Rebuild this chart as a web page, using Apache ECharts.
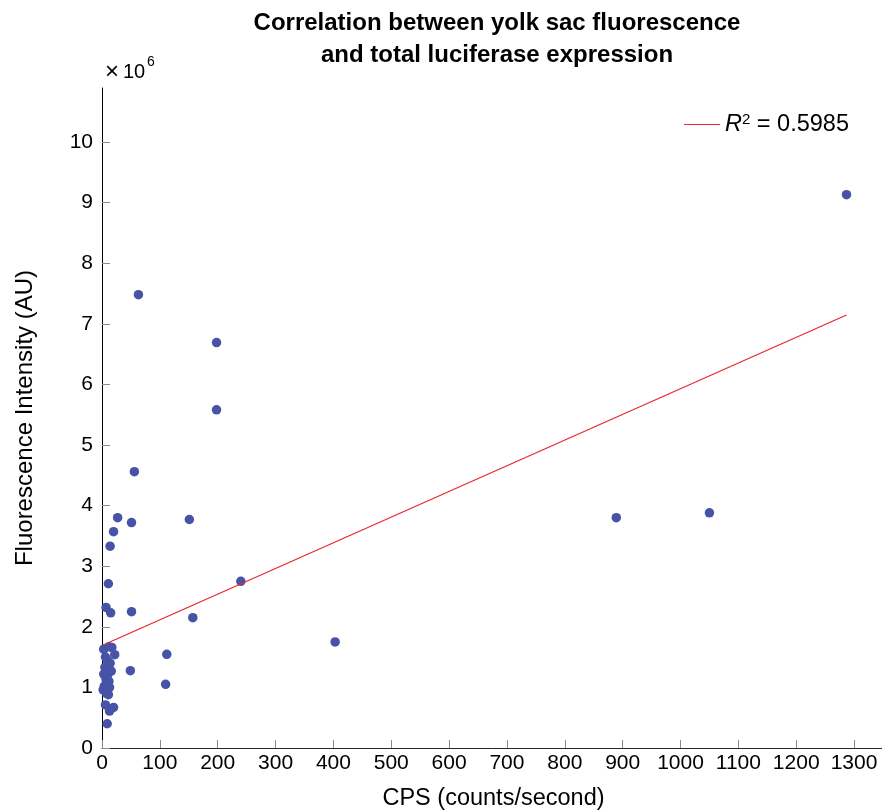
<!DOCTYPE html>
<html>
<head>
<meta charset="utf-8">
<script src="https://cdn.jsdelivr.net/npm/echarts@6/dist/echarts.min.js"></script>
<style>
  html, body { margin: 0; padding: 0; background: #fff; }
  #chart { width: 882px; height: 811px; }
</style>
</head>
<body>
<div id="chart"></div>
<script>
// Luciferase CPS (counts/second) per sample
const cps = [
  1287, 1050, 889, 403, 240, 157, 151, 198, 198, 63, 56, 51, 27, 20, 14, 11, 7, 15, 51, 112, 110, 49,
  3, 12, 17, 22, 6, 9, 14, 5, 11, 16, 3, 10, 7, 12, 4, 13, 2, 8, 11, 6, 20, 13, 9
];
// Yolk sac fluorescence intensity (AU) per sample
const fluorescence = [
  9.13e6, 3.88e6, 3.80e6, 1.75e6, 2.75e6, 2.15e6, 3.77e6, 6.69e6, 5.58e6, 7.48e6, 4.56e6, 3.72e6, 3.80e6, 3.57e6, 3.33e6, 2.71e6, 2.32e6, 2.23e6, 2.25e6, 1.545e6, 1.05e6, 1.275e6,
  1.63e6, 1.67e6, 1.66e6, 1.54e6, 1.50e6, 1.45e6, 1.40e6, 1.33e6, 1.30e6, 1.27e6, 1.22e6, 1.21e6, 1.13e6, 1.10e6, 1.02e6, 1.00e6, 0.96e6, 0.90e6, 0.88e6, 0.71e6, 0.67e6, 0.61e6, 0.40e6
];
// Linear fit: fluorescence = fitIntercept + fitSlope * cps
const fitSlope = 4239;
const fitIntercept = 1.69e6;
const rSquared = '0.5985';
const xTicks = [0, 100, 200, 300, 400, 500, 600, 700, 800, 900, 1000, 1100, 1200, 1300];
const yTicks = [0, 1, 2, 3, 4, 5, 6, 7, 8, 9, 10];   // in units of 10^6
const yExponent = 6;
const yScale = Math.pow(10, yExponent);

const points = cps.map((x, i) => [x, fluorescence[i]]);
const xMin = Math.min(...cps), xMax = Math.max(...cps);
const fitLine = [xMin, xMax].map(x => [x, fitIntercept + fitSlope * x]);
const yTickValues = yTicks.map(t => t * yScale);

const FONT = 'Liberation Sans, Arial, Helvetica, sans-serif';
const chart = echarts.init(document.getElementById('chart'), null, { renderer: 'canvas' });

chart.setOption({
  animation: false,
  backgroundColor: '#ffffff',
  textStyle: { fontFamily: FONT },
  title: {
    text: 'Correlation between yolk sac fluorescence\nand total luciferase expression',
    left: 492,
    top: 2,
    textAlign: 'center',
    textStyle: { fontFamily: FONT, fontSize: 24, fontWeight: 'bold', color: '#000', lineHeight: 32 }
  },
  legend: {
    right: 28,
    top: 107,
    icon: 'rect',
    itemWidth: 36,
    itemHeight: 1.2,
    itemGap: 8,
    data: ['fit'],
    formatter: () => '{i|R}{s|2} = ' + rSquared,
    textStyle: {
      fontFamily: FONT, fontSize: 23.5, color: '#000',
      rich: {
        i: { fontFamily: FONT, fontSize: 23.5, fontStyle: 'italic', color: '#000' },
        s: { fontFamily: FONT, fontSize: 15, color: '#000', verticalAlign: 'top', padding: [0, 0, 10, 0] }
      }
    }
  },
  // axis multiplier "×10^6" above the y axis
  graphic: [
    {
      type: 'text', left: 105, top: 60,
      style: { text: '×', font: '24px ' + FONT, fill: '#000' }
    },
    {
      type: 'text', left: 123, top: 62,
      style: { text: '10', font: '20px ' + FONT, fill: '#000' }
    },
    {
      type: 'text', left: 147, top: 55,
      style: { text: String(yExponent), font: '14px ' + FONT, fill: '#000' }
    }
  ],
  // right edge runs a few pixels past the canvas so the axis end carries no visible tick
  grid: { left: 102, right: -3, top: 88, bottom: 63, containLabel: false, outerBoundsMode: 'none' },
  xAxis: {
    type: 'value',
    min: 0,
    max: 1353.5,
    interval: 100,
    name: 'CPS (counts/second)',
    nameLocation: 'middle',
    nameGap: 39,
    nameTextStyle: { fontFamily: FONT, fontSize: 23.5, color: '#000' },
    axisLine: { onZero: false, lineStyle: { color: '#262626', width: 1 } },
    axisTick: { inside: true, length: 8, lineStyle: { color: '#8c8c8c' } },
    axisLabel: {
      fontFamily: FONT, fontSize: 21, color: '#000', margin: 5,
      formatter: v => (xTicks.includes(v) ? String(v) : '')
    },
    splitLine: { show: false }
  },
  yAxis: {
    type: 'value',
    min: 0,
    max: 10.89e6,
    interval: 1e6,
    name: 'Fluorescence Intensity (AU)',
    nameLocation: 'middle',
    nameGap: 65,
    nameTextStyle: { fontFamily: FONT, fontSize: 24, color: '#000' },
    axisLine: { onZero: false, lineStyle: { color: '#000', width: 1 } },
    axisTick: { inside: true, length: 8, customValues: yTickValues, lineStyle: { color: '#8c8c8c' } },
    axisLabel: {
      fontFamily: FONT, fontSize: 21, color: '#000', margin: 9,
      customValues: yTickValues,
      formatter: v => String(Math.round(v / yScale))
    },
    splitLine: { show: false }
  },
  series: [
    {
      name: 'samples',
      type: 'scatter',
      data: points,
      symbol: 'circle',
      symbolSize: 9.5,
      itemStyle: { color: '#4653a6', opacity: 1 },
      z: 3
    },
    {
      name: 'fit',
      type: 'line',
      data: fitLine,
      showSymbol: false,
      symbol: 'none',
      lineStyle: { color: '#e8262c', width: 1.2 },
      itemStyle: { color: '#e8262c' },
      z: 4
    }
  ]
});
</script>
</body>
</html>
